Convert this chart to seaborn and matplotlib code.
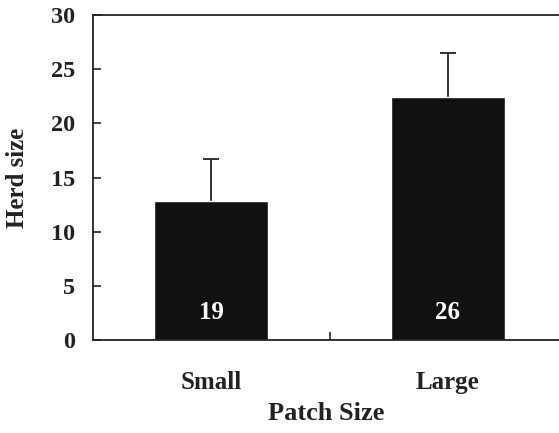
import matplotlib
matplotlib.use("Agg")
import matplotlib.pyplot as plt
import seaborn as sns
import pandas as pd

# values
patch_sizes = ["Small", "Large"]
herd_size = [12.8, 22.4]
herd_se = [3.9, 4.1]
n_herds = [19, 26]
y_ticks = [0, 5, 10, 15, 20, 25, 30]

sns.set_theme(style="ticks")
plt.rcParams["font.family"] = ["Liberation Serif", "DejaVu Serif"]
plt.rcParams["font.weight"] = "bold"
plt.rcParams["axes.labelweight"] = "bold"

df = pd.DataFrame({"patch": patch_sizes, "herd": herd_size, "se": herd_se, "n": n_herds})

fig = plt.figure(figsize=(5.59, 4.33), dpi=100)
ax = fig.add_axes([93 / 559, 93 / 433, 473 / 559, 325 / 433])

sns.barplot(data=df, x="patch", y="herd", color="#111111", saturation=1,
            width=0.48, errorbar=None, ax=ax, zorder=2)
# one-sided error bars: drop the cap sitting on the bar top
eb = ax.errorbar(range(len(df)), df["herd"], yerr=[[0] * len(df), df["se"]],
                 fmt="none", ecolor="#222222", elinewidth=1.3, capsize=6,
                 capthick=1.3, zorder=1)
eb[1][0].set_visible(False)

for i, n in enumerate(df["n"]):
    ax.text(i, 2.5, str(n), color="white", ha="center", va="center",
            fontsize=18, fontweight="bold", zorder=3)

ax.set_xlim(-0.5, 1.5)
ax.set_ylim(0, 30)
ax.set_yticks(y_ticks)
ax.set_xticks([0.5], minor=True)

for side in ["left", "bottom", "top", "right"]:
    ax.spines[side].set_linewidth(1.3)
    ax.spines[side].set_color("#222222")

ax.tick_params(axis="y", direction="in", length=6, width=1.2, pad=13,
               labelsize=17.5, colors="#222222")
ax.tick_params(axis="x", which="major", length=0, pad=22, labelsize=18, colors="#222222")
ax.tick_params(axis="x", which="minor", direction="in", length=6, width=1.2)

ax.set_xlabel("Patch Size", fontsize=19, color="#222222")
ax.set_ylabel("Herd size", fontsize=18, color="#222222")
ax.xaxis.set_label_coords(0.492, -0.19)
ax.yaxis.set_label_coords(-0.135, 0.5)

fig.savefig("out.png", dpi=100)
plt.close(fig)
